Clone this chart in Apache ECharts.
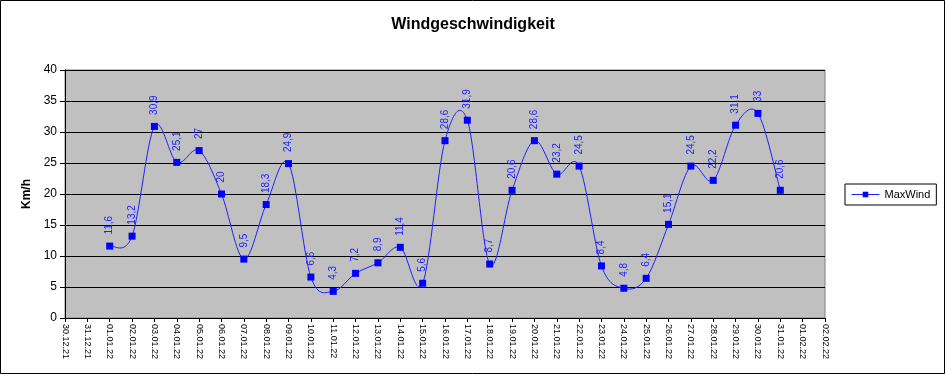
<!DOCTYPE html>
<html>
<head>
<meta charset="utf-8">
<script src="https://cdn.jsdelivr.net/npm/echarts@6/dist/echarts.min.js"></script>
<style>
html,body{margin:0;padding:0;background:#fff;}
#chart{width:946px;height:375px;}
</style>
</head>
<body>
<div id="chart"></div>
<script>
const categories = ['30.12.21','31.12.21','01.01.22','02.01.22','03.01.22','04.01.22','05.01.22','06.01.22','07.01.22','08.01.22','09.01.22','10.01.22','11.01.22','12.01.22','13.01.22','14.01.22','15.01.22','16.01.22','17.01.22','18.01.22','19.01.22','20.01.22','21.01.22','22.01.22','23.01.22','24.01.22','25.01.22','26.01.22','27.01.22','28.01.22','29.01.22','30.01.22','31.01.22','01.02.22','02.02.22'];
const maxWind = [null,null,11.6,13.2,30.9,25.1,27,20,9.5,18.3,24.9,6.6,4.3,7.2,8.9,11.4,5.6,28.6,31.9,8.7,20.6,28.6,23.2,24.5,8.4,4.8,6.4,15.1,24.5,22.2,31.1,33,20.6,null,null];
const seriesName = 'MaxWind';
const titleText = 'Windgeschwindigkeit';
const yAxisName = 'Km/h';

const LINE_COLOR = '#2020FF';
const chart = echarts.init(document.getElementById('chart'), null, {renderer:'canvas'});
const font = 'Liberation Sans, Arial, sans-serif';

// Excel-like (Catmull-Rom) smoothed segment between point i and i+1
function renderSegment(params, api){
  const i = params.dataIndex;
  const n = maxWind.length;
  if (maxWind[i] == null || i + 1 >= n || maxWind[i+1] == null) return;
  const P = j => api.coord([j, maxWind[j]]);
  const p1 = P(i), p2 = P(i+1);
  const p0 = (i - 1 >= 0 && maxWind[i-1] != null) ? P(i-1) : p1;
  const p3 = (i + 2 < n && maxWind[i+2] != null) ? P(i+2) : p2;
  const t = 1/6;
  return {
    type:'bezierCurve',
    shape:{
      x1:p1[0], y1:p1[1], x2:p2[0], y2:p2[1],
      cpx1:p1[0] + (p2[0]-p0[0])*t, cpy1:p1[1] + (p2[1]-p0[1])*t,
      cpx2:p2[0] - (p3[0]-p1[0])*t, cpy2:p2[1] - (p3[1]-p1[1])*t
    },
    style:{stroke:LINE_COLOR, lineWidth:1, fill:null}
  };
}

chart.setOption({
  animation:false,
  backgroundColor:'#ffffff',
  textStyle:{fontFamily:font},
  title:{
    text:titleText, left:'center', top:12,
    textStyle:{fontFamily:font,fontSize:16,fontWeight:'bold',color:'#000'}
  },
  graphic:[{
    type:'rect', shape:{x:0.5,y:0.5,width:944,height:373},
    style:{fill:'none',stroke:'#000',lineWidth:1}, silent:true, z:100
  }],
  legend:{
    data:[seriesName], left:845, top:184, orient:'vertical',
    borderColor:'#000', borderWidth:1, padding:[5,6,5,6], borderRadius:0,
    itemWidth:28, itemHeight:7, itemGap:0,
    lineStyle:{color:LINE_COLOR, width:1, opacity:1},
    textStyle:{fontFamily:font,fontSize:11,color:'#000'}
  },
  grid:{
    left:65, right:121, top:70, bottom:57, show:true,
    backgroundColor:'#C0C0C0', borderColor:'#808080', borderWidth:1
  },
  xAxis:{
    type:'category', data:categories, boundaryGap:false,
    axisLine:{lineStyle:{color:'#000',width:1}},
    axisTick:{show:true,interval:0,length:4,lineStyle:{color:'#000'}},
    axisLabel:{interval:0,rotate:-90,fontSize:9,color:'#000',margin:6,fontFamily:font},
    splitLine:{show:false}
  },
  yAxis:{
    type:'value', min:0, max:40, interval:5,
    name:yAxisName, nameLocation:'middle', nameGap:30, nameRotate:90,
    nameTextStyle:{fontFamily:font,fontSize:12,fontWeight:'bold',color:'#000'},
    axisLine:{show:true,lineStyle:{color:'#000',width:1}},
    axisTick:{show:true,length:5,lineStyle:{color:'#000'}},
    axisLabel:{fontSize:12,color:'#000',margin:8,fontFamily:font},
    splitLine:{show:true,lineStyle:{color:'#000',width:1}}
  },
  series:[{
    name:'curve', type:'custom', z:2, silent:true,
    data:maxWind.map((v,i)=>[i, v == null ? 0 : v]),
    encode:{x:0,y:1},
    renderItem:renderSegment
  },{
    name:seriesName, type:'line', data:maxWind, z:3,
    symbol:'rect', symbolSize:7, showAllSymbol:true,
    itemStyle:{color:'#0000FF'},
    lineStyle:{color:LINE_COLOR,width:1,opacity:0},
    label:{
      show:true, position:'top', distance:8, rotate:90,
      align:'left', verticalAlign:'middle',
      fontSize:10, color:LINE_COLOR, fontFamily:font,
      formatter:p => String(p.value).replace('.', ',')
    }
  }]
});
</script>
</body>
</html>
